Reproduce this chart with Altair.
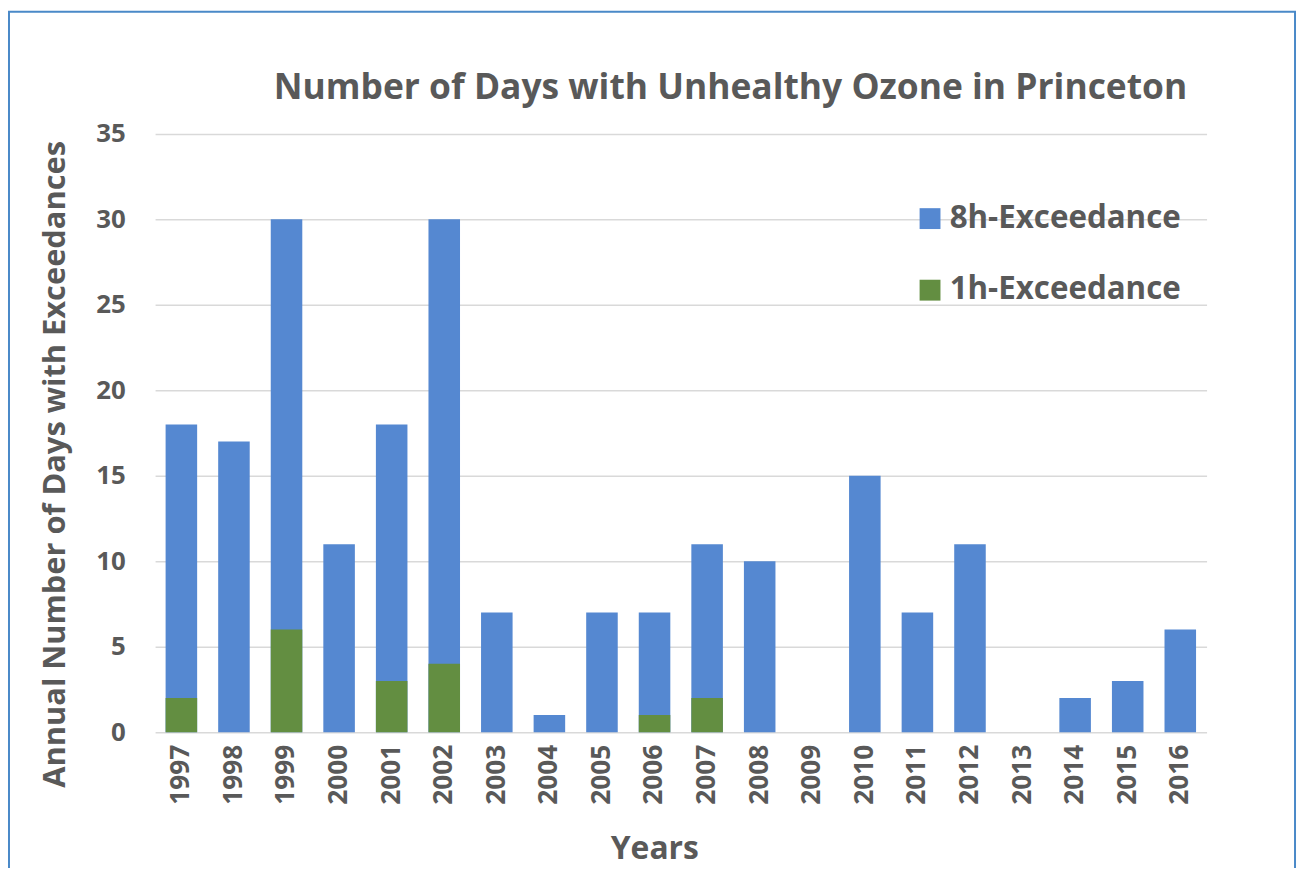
import altair as alt
import pandas as pd

years = ["1997", "1998", "1999", "2000", "2001", "2002", "2003", "2004", "2005", "2006",
         "2007", "2008", "2009", "2010", "2011", "2012", "2013", "2014", "2015", "2016"]
exceed_8h = [18, 17, 30, 11, 18, 30, 7, 1, 7, 7, 11, 10, 0, 15, 7, 11, 0, 2, 3, 6]
exceed_1h = [2, 0, 6, 0, 3, 4, 0, 0, 0, 1, 2, 0, 0, 0, 0, 0, 0, 0, 0, 0]
series_names = ["8h-Exceedance", "1h-Exceedance"]
series_colors = ["#5588D1", "#638E41"]
chart_title = "Number of Days with Unhealthy Ozone in Princeton"

rows = []
for y, v in zip(years, exceed_8h):
    rows.append({"Year": y, "Series": series_names[0], "Days": v})
for y, v in zip(years, exceed_1h):
    rows.append({"Year": y, "Series": series_names[1], "Days": v})
df = pd.DataFrame(rows)

FONT = "Open Sans"
TXT = "#595959"

bars = alt.Chart(df).mark_bar().encode(
    x=alt.X("Year:N", sort=years, scale=alt.Scale(paddingInner=0.4, paddingOuter=0.2),
            axis=alt.Axis(title="Years", labelAngle=-90, labelFontSize=26.5, labelFontWeight="bold",
                          labelColor=TXT, labelPadding=12, ticks=False, domain=False,
                          titleFontSize=32, titleFontWeight="bold", titleColor=TXT,
                          titlePadding=30, titleAnchor="start", titleX=458)),
    y=alt.Y("Days:Q", stack=None, scale=alt.Scale(domain=[0, 35]),
            axis=alt.Axis(title="Annual Number of Days with Exceedances", values=[0, 5, 10, 15, 20, 25, 30, 35],
                          labelFontSize=26, labelFontWeight="bold", labelColor=TXT, labelPadding=30,
                          ticks=False, domain=False, gridColor="#D9D9D9", gridWidth=1.5,
                          titleFontSize=31, titleFontWeight="bold", titleColor=TXT, titlePadding=24,
                          titleAnchor="middle", titleY=332)),
    color=alt.Color("Series:N", sort=series_names,
                    scale=alt.Scale(domain=series_names, range=series_colors),
                    legend=alt.Legend(title=None, orient="none", legendX=764, legendY=69.5,
                                      symbolType="square", symbolSize=441, symbolStrokeWidth=0,
                                      labelFontSize=31.5, labelFontWeight="bold", labelColor=TXT,
                                      labelLimit=0, rowPadding=39, labelOffset=4)),
    order=alt.Order("Series:N", sort="descending"),
)

frame = alt.Chart(pd.DataFrame({"k": [0]})).mark_rect(
    fill=None, stroke="#4A89C8", strokeWidth=2, clip=False
).encode(x=alt.value(-147), x2=alt.value(1147), y=alt.value(-123), y2=alt.value(800))

title = alt.Chart(pd.DataFrame({"t": [chart_title]})).mark_text(
    fontSize=35.6, fontWeight="bold", color=TXT, font=FONT, align="center", baseline="alphabetic"
).encode(text="t:N", x=alt.value(579), y=alt.value(-35))

chart = alt.layer(frame, bars, title).properties(
    width=1058, height=602,
    autosize=alt.AutoSizeParams(type="none"),
    padding={"left": 148, "top": 124, "right": 92, "bottom": 134},
).configure(font=FONT).configure_view(stroke=None)

chart.save("out.html", embed_options={"renderer": "svg", "actions": False})
